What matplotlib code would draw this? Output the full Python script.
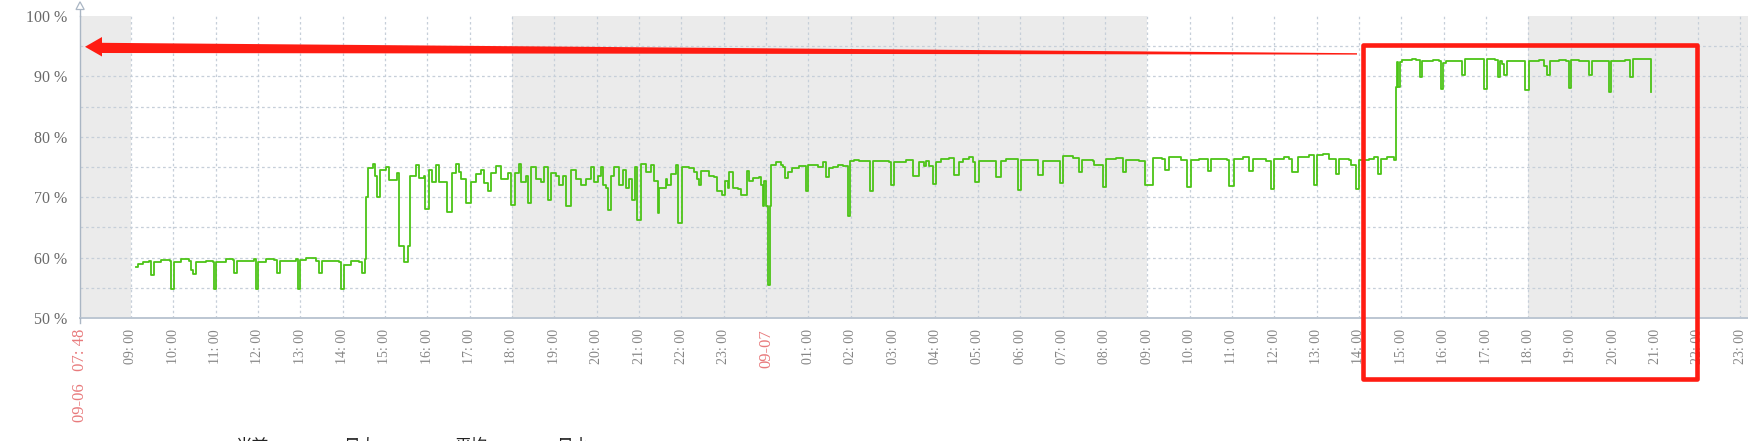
import matplotlib.pyplot as plt
from matplotlib.patches import Polygon, Rectangle

# hours counted from 09-06 00:00, usage in %
hours = [
    9.12, 9.17, 9.28, 9.43, 9.47, 9.54, 9.71, 9.92, 9.96, 10.02,
    10.18, 10.37, 10.42, 10.46, 10.54, 10.77, 10.94, 10.97, 11.01, 11.24,
    11.41, 11.44, 11.50, 11.72, 11.91, 11.95, 12.00, 12.19, 12.38, 12.44,
    12.52, 12.78, 12.90, 12.94, 12.99, 13.13, 13.37, 13.45, 13.51, 13.72,
    13.91, 13.96, 14.03, 14.20, 14.38, 14.47, 14.53, 14.56, 14.59, 14.71,
    14.76, 14.82, 14.88,
    15.02, 15.09, 15.28, 15.34, 15.45, 15.54, 15.59, 15.73, 15.80, 15.92,
    15.94, 16.04, 16.11, 16.20, 16.27, 16.44, 16.46, 16.58, 16.67, 16.74,
    16.79, 16.86, 16.91, 17.03, 17.15, 17.26, 17.34, 17.43, 17.50, 17.62,
    17.74, 17.90, 17.97, 18.07, 18.16, 18.21, 18.33, 18.37, 18.45, 18.56,
    18.68, 18.75, 18.85, 18.92, 19.04, 19.11, 19.20, 19.27, 19.39, 19.51,
    19.63, 19.74, 19.86, 19.93, 20.03, 20.10, 20.15, 20.22, 20.26, 20.33,
    20.41, 20.52, 20.62, 20.69, 20.76, 20.83, 20.90, 20.95, 21.04, 21.16,
    21.28, 21.36, 21.44, 21.47, 21.63, 21.67, 21.75, 21.87, 21.93, 22.01,
    22.18, 22.30, 22.38, 22.42, 22.46, 22.65, 22.77, 22.85, 22.97, 23.03,
    23.09, 23.13, 23.21, 23.33, 23.40, 23.51, 23.56, 23.60, 23.68, 23.84,
    23.88, 23.92, 23.96, 23.99, 24.04, 24.09, 24.12, 24.23, 24.35, 24.40,
    24.45, 24.51, 24.61, 24.78, 24.92, 24.95, 25.00, 25.10, 25.22, 25.34,
    25.41, 25.48, 25.57, 25.69, 25.81, 25.89, 25.94, 25.99, 26.08, 26.20,
    26.40, 26.46, 26.52, 26.68, 26.91, 26.95, 27.03, 27.30,
    27.46, 27.61, 27.73, 27.77, 27.84, 27.93, 28.02, 28.13, 28.32, 28.44,
    28.56, 28.64, 28.80, 28.88, 28.94, 29.03, 29.23, 29.43, 29.54, 29.66,
    29.90, 29.95, 30.02, 30.29, 30.43, 30.53, 30.77, 30.94, 31.00, 31.24,
    31.39, 31.47, 31.71, 31.75, 31.96, 32.02, 32.26, 32.43, 32.49, 32.81,
    32.95, 33.13, 33.36, 33.42,
    33.52, 33.67, 33.79, 33.95, 34.03, 34.22, 34.42, 34.44, 34.50, 34.89,
    34.93, 35.05, 35.25, 35.40, 35.50, 35.64, 35.80, 35.93, 35.99, 36.23,
    36.35, 36.43, 36.55, 36.82, 36.94, 37.02, 37.14, 37.29, 37.45, 37.53,
    37.77, 37.81, 37.92, 38.00, 38.24, 38.36, 38.44, 38.51, 38.67, 38.83,
    38.87, 38.89, 38.93, 38.97, 39.01, 39.26, 39.34, 39.43, 39.50,
    39.58, 39.74, 39.90, 39.94, 39.99, 40.06, 40.25, 40.37, 40.43, 40.51,
    40.92, 40.96, 41.02, 41.22, 41.28, 41.33, 41.38, 41.43, 41.49, 41.67,
    41.78, 41.93, 42.02, 42.26, 42.37, 42.43, 42.51, 42.73, 42.89, 42.95,
    43.00, 43.20, 43.40, 43.43, 43.50, 43.75, 43.87, 43.90, 43.96, 44.27,
    44.39, 44.47, 44.87, 44.89,
]
usage = [
    58.5, 59.0, 59.3, 59.5, 57.2, 59.3, 59.6, 59.5, 54.8, 59.3,
    59.8, 59.5, 58.0, 57.3, 59.2, 59.4, 59.2, 54.8, 59.2, 59.8,
    59.6, 57.5, 59.5, 59.5, 59.8, 54.8, 59.2, 59.8, 59.6, 57.5,
    59.4, 59.5, 59.8, 54.8, 59.6, 59.9, 59.5, 57.5, 59.4, 59.5,
    59.3, 54.8, 58.8, 59.5, 59.3, 57.5, 59.7, 70.1, 74.8, 75.5,
    73.5, 70.0, 74.5,
    75.0, 72.8, 74.0, 62.0, 59.2, 62.0, 73.5, 75.3, 73.2, 73.5,
    68.0, 74.5, 72.5, 75.3, 72.5, 72.5, 67.6, 74.0, 75.5, 74.2,
    73.0, 73.0, 69.1, 72.5, 73.8, 74.5, 72.4, 71.0, 74.0, 75.2,
    73.0, 74.0, 68.7, 74.0, 75.5, 72.5, 73.5, 69.0, 75.0, 73.0,
    72.5, 75.0, 69.5, 74.0, 73.5, 72.0, 73.5, 68.5, 74.5, 73.0,
    72.0, 73.0, 75.0, 72.5, 73.5, 75.0, 72.0, 71.5, 67.9, 73.5,
    75.0, 72.0, 74.5, 71.5, 73.0, 69.5, 75.0, 66.3, 75.5, 74.1,
    75.4, 72.7, 67.4, 71.5, 73.0, 72.0, 73.8, 75.4, 65.7, 75.0,
    74.9, 74.1, 73.0, 72.0, 74.3, 73.5, 73.4, 71.1, 70.3, 72.7,
    71.6, 74.1, 71.6, 71.4, 70.3, 70.3, 74.3, 72.7, 73.2, 73.4,
    72.0, 68.6, 72.7, 68.6, 55.5, 68.6, 75.4, 75.8, 75.4, 75.0,
    73.2, 74.1, 74.9, 75.2, 75.2, 71.1, 75.4, 75.3, 75.0, 75.8,
    73.4, 74.8, 75.0, 75.4, 75.2, 75.2, 66.9, 76.0, 76.1, 76.0,
    76.0, 71.1, 76.0, 76.0, 75.9, 72.1, 75.9, 76.1,
    73.5, 75.9, 75.2, 76.0, 75.2, 72.2, 75.9, 76.4, 76.5, 73.6,
    75.9, 76.4, 76.7, 75.9, 72.5, 76.0, 76.0, 73.3, 76.0, 76.4,
    76.4, 71.2, 76.2, 76.2, 73.6, 76.0, 76.0, 72.4, 76.8, 76.5,
    74.1, 76.2, 76.0, 75.4, 71.7, 76.4, 76.5, 74.2, 76.2, 76.0,
    72.0, 76.5, 76.4, 74.5,
    76.6, 76.6, 76.1, 71.7, 76.1, 76.4, 76.4, 74.4, 76.4, 76.2,
    71.8, 76.4, 76.6, 74.4, 76.4, 76.4, 76.0, 71.4, 76.4, 76.6,
    76.4, 74.1, 76.6, 77.0, 72.0, 77.0, 77.2, 76.4, 73.8, 76.4,
    76.2, 75.3, 71.4, 76.1, 76.4, 76.6, 73.8, 76.4, 76.6, 76.2,
    88.3, 92.4, 88.3, 92.4, 92.7, 92.9, 92.7, 89.9, 92.6,
    92.6, 92.7, 92.5, 87.9, 92.3, 92.6, 92.6, 92.5, 90.2, 92.8,
    92.9, 87.9, 92.8, 92.7, 89.9, 92.6, 92.1, 90.2, 92.6, 92.6,
    92.5, 87.8, 92.6, 92.7, 91.8, 90.2, 92.6, 92.7, 92.5, 88.1,
    92.7, 92.6, 92.5, 90.2, 92.5, 92.6, 92.5, 87.4, 92.6, 92.7,
    89.9, 92.8, 92.9, 87.4,
]

start_hour = 7.8            # 09-06 07:48
night_spans = [(7.8, 9), (18, 33), (42, 48)]
tick_hours = list(range(9, 48))
y_ticks = [50, 60, 70, 80, 90, 100]
legend_labels = ['当前', '最大', '平均', '最小']

W, H = 1749, 441
px_per_hour = 42.35
grid_col = '#c6cfd9'
axis_col = '#aab6c4'
red = '#ff1c12'

fig = plt.figure(figsize=(W / 100, H / 100), dpi=100)
ax = fig.add_axes([80 / W, 1 - 318 / H, 1 - 80 / W, 302 / H])
ax.set_xlim(start_hour, start_hour + (W - 80) / px_per_hour)
ax.set_ylim(50, 100)

for a, b in night_spans:
    ax.axvspan(a, b, color='#ebebeb', lw=0, zorder=0)
for h in tick_hours:
    ax.axvline(h, color=grid_col, lw=0.9, dashes=(2, 2.2), zorder=1)
for v in range(55, 100, 5):
    ax.axhline(v, color=grid_col, lw=0.9, dashes=(2.2, 2.2), zorder=1)

ax.plot(hours, usage, color='#4cc417', lw=1.3, drawstyle='steps-post', zorder=3)

# tick labels
xt = [start_hour] + tick_hours
xl = ['09-06   07: 48'] + ['09-07' if h == 24 else f'{h % 24:02d}: 00' for h in tick_hours]
ax.set_xticks(xt)
ax.set_xticklabels(xl, rotation=90, fontfamily='Liberation Serif', fontsize=10)
for t, lab in zip(ax.get_xticklabels(), xl):
    if lab.startswith('09-'):
        t.set_color('#e87a7c')
        t.set_fontsize(12)
    else:
        t.set_color('#858585')
ax.tick_params(axis='x', length=0, pad=8)

ax.set_yticks(y_ticks)
ax.set_yticklabels([f'{v} %' for v in y_ticks], fontfamily='Liberation Serif',
                   fontsize=11.5, color='#6a6a6a')
ax.tick_params(axis='y', length=0, pad=9)

for s in ['top', 'right']:
    ax.spines[s].set_visible(False)
ax.spines['left'].set_color(axis_col)
ax.spines['left'].set_linewidth(1.0)
ax.spines['bottom'].set_color('#bcc6d2')
ax.spines['bottom'].set_linewidth(1.4)

# overlay in pixel coordinates for the annotations
ov = fig.add_axes([0, 0, 1, 1], zorder=5)
ov.set_xlim(0, W)
ov.set_ylim(H, 0)
ov.axis('off')
ov.patch.set_alpha(0)

# y axis arrow head and small tick below the axis
ov.plot([80, 80], [9.5, 16], color=axis_col, lw=1.0)
ov.plot([80, 80], [318, 323], color=axis_col, lw=1.0)
ov.add_patch(Polygon([(76, 9.5), (80, 1.8), (84.2, 9.5)], closed=True,
                     fc='white', ec=axis_col, lw=0.9))

# red arrow
ov.add_patch(Polygon([(101, 42.8), (1357, 53.2), (1357, 54.6), (101, 53.0)],
                     closed=True, fc=red, ec='none'))
ov.add_patch(Polygon([(85, 46.8), (102, 37), (102, 56.5)], closed=True, fc=red, ec='none'))

# red box
ov.add_patch(Rectangle((1363, 44.5), 1696.7 - 1363, 378.8 - 44.5, fill=False,
                       ec=red, lw=3.3, joinstyle='round'))

# legend header, cut off by the bottom edge as in the screenshot
for lab, xc in zip(legend_labels, [252, 360, 471, 573]):
    ov.text(xc, 437.5, lab, ha='center', va='top', fontsize=12,
            family=['Noto Sans CJK SC', 'DejaVu Sans'], color='#222222')

fig.savefig('out.png', dpi=100)
